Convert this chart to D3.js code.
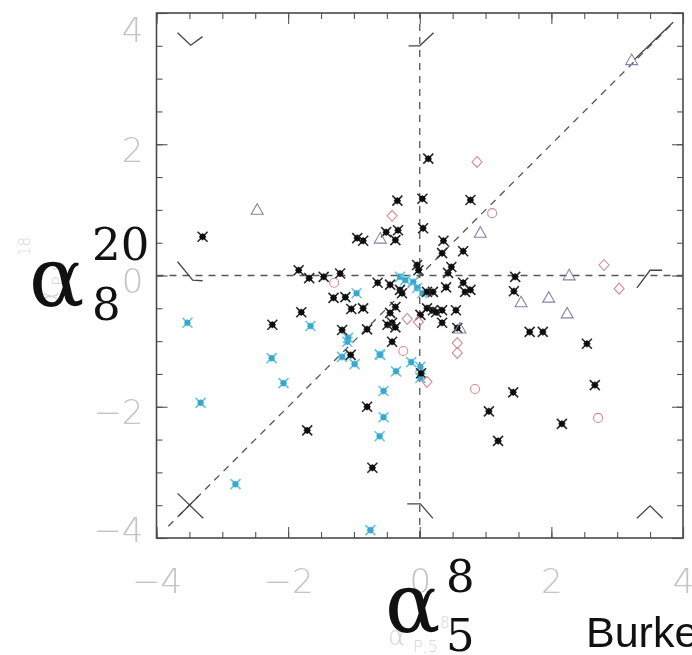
<!DOCTYPE html>
<html><head><meta charset="utf-8">
<script src="https://cdn.jsdelivr.net/npm/d3@7"></script>
<style>body{margin:0;background:#fff;overflow:hidden;} svg{display:block;}</style>
</head><body>
<svg id="c" width="692" height="655"></svg>
<script>
// ---- data ----
const majorTicks = [-4, -2, 0, 2, 4];
const minorTicks = [-4, -3.5, -3, -2.5, -2, -1.5, -1, -0.5, 0, 0.5, 1, 1.5, 2, 2.5, 3, 3.5, 4];
const tickLabels = ["\u22124", "\u22122", "0", "2", "4"];

const blackStars = [
  [-3.30,0.59],[0.13,1.78],[-0.34,1.14],[0.04,1.17],[0.77,1.15],[0.05,0.72],
  [-0.95,0.57],[-0.86,0.53],[-0.51,0.66],[-0.33,0.69],[-0.37,0.54],[0.36,0.53],
  [0.34,0.34],[0.66,0.37],[-0.04,0.16],[-0.02,0.08],[0.43,0.04],[0.48,0.13],
  [0.40,-0.18],[0.66,-0.11],[0.69,-0.25],[0.77,-0.22],[1.45,-0.02],[1.43,-0.24],
  [-1.84,0.08],[-1.68,-0.04],[-1.46,-0.02],[-1.21,0.03],[-1.31,-0.34],[-1.80,-0.56],
  [-2.24,-0.75],[-0.64,-0.11],[-0.45,-0.14],[-0.30,-0.22],[-0.27,-0.27],[0.11,-0.25],
  [0.20,-0.25],[-1.13,-0.33],[-1.04,-0.51],[-0.86,-0.50],[-0.37,-0.48],[-0.45,-0.57],
  [0.01,-0.60],[0.11,-0.50],[0.20,-0.53],[0.25,-0.56],[0.34,-0.53],[0.55,-0.53],
  [0.34,-0.72],[0.57,-0.80],[-1.18,-0.83],[-0.80,-0.82],[-0.49,-0.75],[-0.42,-0.72],
  [-0.37,-0.79],[-0.42,-1.01],[-1.05,-1.21],[1.67,-0.86],[1.87,-0.86],[2.54,-1.04],
  [-1.71,-2.36],[-0.80,-2.00],[-0.72,-2.93],[0.02,-1.49],[1.42,-1.78],[1.05,-2.07],
  [1.19,-2.52],[2.16,-2.26],[2.66,-1.67]
];
const cyanStars = [
  [-3.53,-0.72],[-1.66,-0.77],[-3.33,-1.94],[-2.25,-1.26],[-2.07,-1.64],[-2.80,-3.18],
  [-0.75,-3.88],[-0.55,-2.16],[-0.61,-2.45],[-0.55,-1.76],[-0.36,-1.46],[-0.61,-1.20],
  [-0.13,-1.32],[0.01,-1.39],[0.01,-1.56],[-0.99,-1.35],[-1.18,-1.24],[-1.10,-1.01],
  [-0.30,-0.02],[-0.22,-0.07],[-0.10,-0.10],[-0.04,-0.19],[0.04,-0.27],[-0.96,-0.27],
  [-1.09,-0.95],[-0.60,-1.21]
];
const redDiamonds = [
  [0.87,1.73],[-0.42,0.91],[2.80,0.16],[3.03,-0.20],[0.57,-1.03],[0.57,-1.18],
  [0.11,-1.62],[-0.19,-0.66],[-0.02,-0.71]
];
const redCircles = [
  [1.10,0.95],[-1.30,-0.11],[-0.25,-1.15],[0.84,-1.73],[2.71,-2.17]
];
const purpleTriangles = [
  [-2.47,1.01],[-0.60,0.57],[0.92,0.66],[1.54,-0.40],[1.96,-0.33],[2.27,0.01],
  [2.24,-0.57],[3.22,3.29],[0.61,-0.80]
];
const zeroLineH = [[-4,0],[4,0]];
const zeroLineV = [[0,-4],[0,4]];
const diagonal = [[-3.82,-3.82],[3.85,3.85]];
const cornerMarks = [
  [[-3.68,3.70],[-3.48,3.51],[-3.30,3.64]],
  [[-3.68,0.21],[-3.45,-0.07],[-3.30,-0.08]],
  [[-0.17,3.50],[0.0,3.50],[0.21,3.70]],
  [[3.26,3.29],[3.85,3.86]],
  [[3.30,-0.19],[3.50,0.08],[3.68,0.08]],
  [[3.30,-3.70],[3.50,-3.51],[3.69,-3.70]],
  [[-0.19,-3.48],[0.01,-3.48],[0.20,-3.70]],
  [[-3.68,-3.32],[-3.29,-3.70]],
  [[-3.66,-3.66],[-3.36,-3.36]]
];

// ---- drawing ----
const svg = d3.select("#c");
const x = d3.scaleLinear().domain([-4, 4]).range([156.5, 683]);
const y = d3.scaleLinear().domain([-4, 4]).range([538, 13]);

const defs = svg.append("defs");
defs.append("filter").attr("id", "soft").append("feGaussianBlur").attr("stdDeviation", 0.55);

// faint original axis titles
const ghost = svg.append("g").attr("fill", "#d4d4d4").attr("font-family", "DejaVu Sans").attr("font-weight", 200);
ghost.append("text").attr("x", 388).attr("y", 645).attr("font-size", 26).text("\u03b1");
ghost.append("text").attr("x", 413).attr("y", 652).attr("font-size", 16).text("P,5");
ghost.append("text").attr("x", 440).attr("y", 628).attr("font-size", 15).text("8");
const gy = ghost.append("g").attr("transform", "translate(58,308) rotate(-90)");
gy.append("text").attr("x", 0).attr("y", 0).attr("font-size", 26).text("\u03b1");
gy.append("text").attr("x", 22).attr("y", 6).attr("font-size", 16).text("P,8");
gy.append("text").attr("x", 52).attr("y", -28).attr("font-size", 15).text("18");

const plot = svg.append("g").attr("filter", "url(#soft)");

// axes (inward ticks)
function styleAxis(g) {
  g.select(".domain").remove();
  g.selectAll(".tick line").attr("stroke", "#555").attr("stroke-width", 1.1);
}
const H = y(-4), T = y(4), L = x(-4), R = x(4);
plot.append("g").attr("transform", `translate(0,${H})`)
  .call(d3.axisBottom(x).tickValues(minorTicks).tickSize(-6).tickFormat("")).call(styleAxis);
plot.append("g").attr("transform", `translate(0,${T})`)
  .call(d3.axisTop(x).tickValues(minorTicks).tickSize(-6).tickFormat("")).call(styleAxis);
plot.append("g").attr("transform", `translate(${L},0)`)
  .call(d3.axisLeft(y).tickValues(minorTicks).tickSize(-6).tickFormat("")).call(styleAxis);
plot.append("g").attr("transform", `translate(${R},0)`)
  .call(d3.axisRight(y).tickValues(minorTicks).tickSize(-6).tickFormat("")).call(styleAxis);
plot.append("g").attr("transform", `translate(0,${H})`)
  .call(d3.axisBottom(x).tickValues(majorTicks).tickSize(-11).tickFormat("")).call(styleAxis);
plot.append("g").attr("transform", `translate(0,${T})`)
  .call(d3.axisTop(x).tickValues(majorTicks).tickSize(-11).tickFormat("")).call(styleAxis);
plot.append("g").attr("transform", `translate(${L},0)`)
  .call(d3.axisLeft(y).tickValues(majorTicks).tickSize(-11).tickFormat("")).call(styleAxis);
plot.append("g").attr("transform", `translate(${R},0)`)
  .call(d3.axisRight(y).tickValues(majorTicks).tickSize(-11).tickFormat("")).call(styleAxis);

plot.append("rect").attr("x", L).attr("y", T).attr("width", R - L).attr("height", H - T)
  .attr("fill", "none").attr("stroke", "#4a4a4a").attr("stroke-width", 1.6);

// tick labels
const lblFont = g => g.attr("font-family", "DejaVu Sans").attr("font-weight", 200)
  .attr("font-size", 34).attr("fill", "#c4c4c4");
const xl = svg.append("g").attr("transform", `translate(0,${H})`)
  .call(d3.axisBottom(x).tickValues(majorTicks).tickSize(0).tickPadding(31)
    .tickFormat((d, i) => tickLabels[i]));
xl.select(".domain").remove();
xl.selectAll("text").call(lblFont);
const yl = svg.append("g").attr("transform", `translate(${L},0)`)
  .call(d3.axisLeft(y).tickValues(majorTicks).tickSize(0).tickPadding(13)
    .tickFormat((d, i) => tickLabels[i]));
yl.select(".domain").remove();
yl.selectAll("text").call(lblFont).attr("dy", "0.5em")
  .attr("y", d => d === 4 ? 11 : d === -4 ? -14 : 0);

// dashed reference lines
const line = d3.line().x(d => x(d[0])).y(d => y(d[1]));
[zeroLineH, zeroLineV, diagonal].forEach(pts => {
  plot.append("path").attr("d", line(pts)).attr("fill", "none")
    .attr("stroke", "#555").attr("stroke-width", 1.3).attr("stroke-dasharray", "7,6");
});
cornerMarks.forEach(pts => {
  plot.append("path").attr("d", line(pts)).attr("fill", "none")
    .attr("stroke", "#444").attr("stroke-width", 1.3);
});

// markers
const starPath = "M-5,-5L5,5M-5,5L5,-5M-3.5,0L3.5,0M0,-3.5L0,3.5";
function stars(data, stroke, fill) {
  const g = plot.append("g").selectAll("g").data(data).join("g")
    .attr("transform", d => `translate(${x(d[0])},${y(d[1])})`);
  g.append("path").attr("d", starPath).attr("stroke", stroke).attr("stroke-width", 1.6).attr("fill", "none");
  g.append("rect").attr("x", -2.7).attr("y", -2.7).attr("width", 5.4).attr("height", 5.4).attr("fill", fill);
}
stars(cyanStars, "#62c6e4", "#3aa6cc");
stars(blackStars, "#2a2a2a", "#111");

plot.append("g").selectAll("path").data(redDiamonds).join("path")
  .attr("transform", d => `translate(${x(d[0])},${y(d[1])})`)
  .attr("d", "M0,-5.5L5,0L0,5.5L-5,0Z").attr("fill", "none")
  .attr("stroke", "#d88a8a").attr("stroke-width", 1.1);
plot.append("g").selectAll("circle").data(redCircles).join("circle")
  .attr("cx", d => x(d[0])).attr("cy", d => y(d[1])).attr("r", 4.5)
  .attr("fill", "none").attr("stroke", "#d88a8a").attr("stroke-width", 1.1);
plot.append("g").selectAll("path").data(purpleTriangles).join("path")
  .attr("transform", d => `translate(${x(d[0])},${y(d[1])})`)
  .attr("d", "M0,-5.5L6,5L-6,5Z").attr("fill", "none")
  .attr("stroke", "#8a80a8").attr("stroke-width", 1.1);

// overlay math labels
const serif = g => g.attr("font-family", "DejaVu Serif").attr("fill", "#111");
const ylab = svg.append("g").call(serif);
ylab.append("text").attr("x", 29).attr("y", 306).attr("font-size", 82).text("\u03b1");
ylab.append("text").attr("x", 92).attr("y", 260).attr("font-size", 45).text("20");
ylab.append("text").attr("x", 92).attr("y", 320).attr("font-size", 45).text("8");
const xlab = svg.append("g").call(serif);
xlab.append("text").attr("x", 385).attr("y", 632).attr("font-size", 82).text("\u03b1");
xlab.append("text").attr("x", 446).attr("y", 592).attr("font-size", 45).text("8");
xlab.append("text").attr("x", 446).attr("y", 651).attr("font-size", 45).text("5");
svg.append("text").attr("x", 586).attr("y", 647).attr("font-family", "Liberation Sans, Arial, sans-serif")
  .attr("font-size", 43).attr("fill", "#111").text("Burke");
</script>
</body></html>
